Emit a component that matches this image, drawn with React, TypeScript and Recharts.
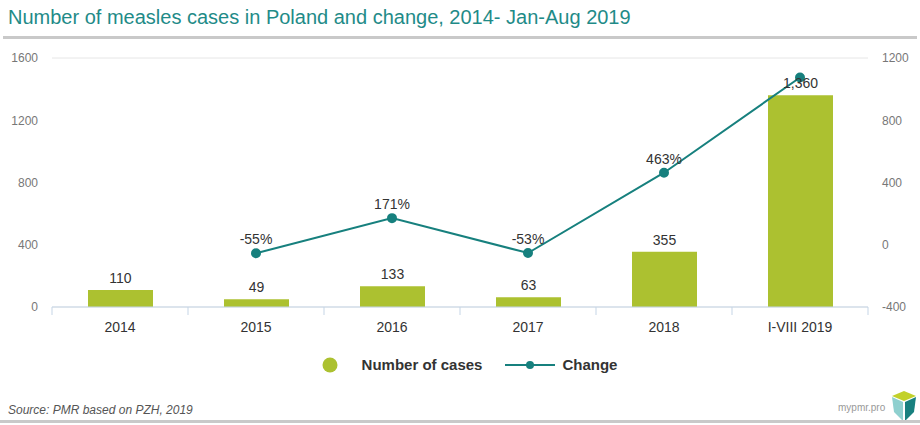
import React from 'react';
import { ComposedChart, Bar, Line, XAxis, YAxis, CartesianGrid, LabelList, Legend } from 'recharts';

const categories = ['2014', '2015', '2016', '2017', '2018', 'I-VIII 2019'];
const cases = [110, 49, 133, 63, 355, 1360];
const change: (number | null)[] = [null, -55, 171, -53, 463, 1075];
const changeLabels = ['', '-55%', '171%', '-53%', '463%', ''];
const leftTicks = [0, 400, 800, 1200, 1600];
const rightTicks = [-400, 0, 400, 800, 1200];

const data = categories.map((c, i) => ({ name: c, cases: cases[i], change: change[i], changeLabel: changeLabels[i] }));

const FONT = '"Liberation Sans", Arial, sans-serif';
const BAR = '#acc130';
const TEAL = '#17807e';

const CatTick = (props: any) => {
  const { x, y, payload, index, width, visibleTicksCount } = props;
  const band = width / (visibleTicksCount || categories.length);
  return (
    <g>
      <line x1={x - band / 2} x2={x - band / 2} y1={y - 8} y2={y} stroke="#c5d5e6" />
      {index === categories.length - 1 && (
        <line x1={x + band / 2} x2={x + band / 2} y1={y - 8} y2={y} stroke="#c5d5e6" />
      )}
      <text x={x} y={y + 17} textAnchor="middle" fontSize={14} fill="#333" fontFamily={FONT}>
        {payload.value}
      </text>
    </g>
  );
};

const LegendContent = () => (
  <div style={{ display: 'flex', justifyContent: 'center', alignItems: 'center', paddingLeft: 19, fontFamily: FONT, fontWeight: 'bold', fontSize: 15, color: '#333' }}>
    <svg width={16} height={16} style={{ marginRight: 24 }}>
      <circle cx={8} cy={8} r={7.5} fill={BAR} />
    </svg>
    <span style={{ marginRight: 23 }}>Number of cases</span>
    <svg width={50} height={12} style={{ marginRight: 7 }}>
      <line x1={0} x2={50} y1={6} y2={6} stroke={TEAL} strokeWidth={2} />
      <circle cx={25} cy={6} r={4} fill={TEAL} />
    </svg>
    <span>Change</span>
  </div>
);

export default function App() {
  return (
    <div style={{ position: 'absolute', top: 0, left: 0, width: 920, height: 425, background: '#fff', overflow: 'hidden' }}>
      <div style={{ position: 'absolute', left: 8, top: 6, fontFamily: FONT, fontSize: 20, color: '#1f8b88' }}>
        Number of measles cases in Poland and change, 2014- Jan-Aug 2019
      </div>
      <div style={{ position: 'absolute', left: 3, top: 36, width: 914, height: 3, background: '#c9c9c9' }} />
      <ComposedChart
        width={920}
        height={425}
        data={data}
        margin={{ top: 58, right: 0, bottom: 71, left: 7 }}
        barCategoryGap={0}
      >
        <CartesianGrid vertical={false} stroke="#e6e6e6" />
        <XAxis
          dataKey="name"
          height={30}
          axisLine={{ stroke: '#c5d5e6' }}
          tickLine={false}
          tick={<CatTick />}
          interval={0}
        />
        <YAxis
          yAxisId="left"
          domain={[0, 1600]}
          ticks={leftTicks}
          width={45}
          axisLine={false}
          tickLine={false}
          tickMargin={8}
          tick={{ fontSize: 12, fill: '#777', fontFamily: FONT }}
        />
        <YAxis
          yAxisId="right"
          orientation="right"
          domain={[-400, 1200]}
          ticks={rightTicks}
          width={52}
          axisLine={false}
          tickLine={false}
          tickMargin={8}
          tick={{ fontSize: 12, fill: '#777', fontFamily: FONT, textAnchor: 'start' }}
        />
        <Bar yAxisId="left" dataKey="cases" fill={BAR} barSize={65} isAnimationActive={false}>
          <LabelList
            dataKey="cases"
            position="top"
            offset={7}
            formatter={(v: any) => Number(v).toLocaleString('en-US')}
            style={{ fontSize: 14, fill: '#333', fontFamily: FONT }}
          />
        </Bar>
        <Line
          yAxisId="right"
          dataKey="change"
          stroke={TEAL}
          strokeWidth={2}
          dot={{ r: 4, fill: TEAL, stroke: TEAL }}
          activeDot={false}
          isAnimationActive={false}
        >
          <LabelList
            dataKey="changeLabel"
            position="top"
            offset={9}
            style={{ fontSize: 14, fill: '#333', fontFamily: FONT }}
          />
        </Line>
        <Legend content={<LegendContent />} wrapperStyle={{ position: 'absolute', top: 356, left: 0, width: 920 }} />
      </ComposedChart>
      <div style={{ position: 'absolute', left: 8, top: 403, fontFamily: FONT, fontSize: 12, fontStyle: 'italic', color: '#555' }}>
        Source: PMR based on PZH, 2019
      </div>
      <div style={{ position: 'absolute', left: 838, top: 402, fontFamily: FONT, fontSize: 10, color: '#999' }}>
        mypmr.pro
      </div>
      <svg style={{ position: 'absolute', left: 891, top: 390 }} width={26} height={32}>
        <polygon points="13,1 25,6 13,11 1,6" fill="#c2d12b" />
        <polygon points="1,7 12,12 12,31 3,22" fill="#8fd0cf" />
        <polygon points="14,12 25,7 23,22 14,31" fill="#18807f" />
      </svg>
      <div style={{ position: 'absolute', left: 0, top: 420, width: 920, height: 3, background: '#c9c9c9' }} />
    </div>
  );
}
